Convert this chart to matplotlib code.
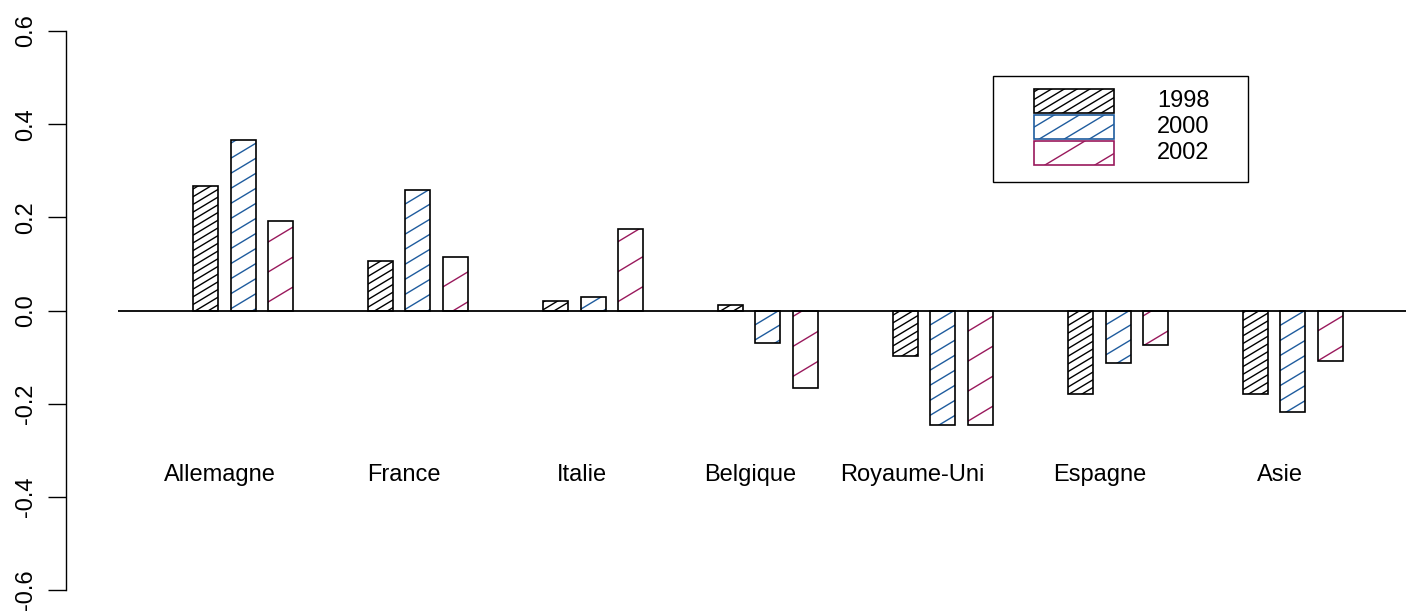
import numpy as np
import matplotlib
matplotlib.use("Agg")
import matplotlib.pyplot as plt
from matplotlib.patches import Rectangle
from matplotlib.lines import Line2D
from matplotlib.transforms import IdentityTransform

plt.rcParams['font.family'] = ['Liberation Sans', 'DejaVu Sans']

countries = ['Allemagne', 'France', 'Italie', 'Belgique', 'Royaume-Uni', 'Espagne', 'Asie']
years = ['1998', '2000', '2002']
v1998 = [0.268, 0.107, 0.021, 0.011, -0.097, -0.180, -0.180]
v2000 = [0.365, 0.258, 0.028, -0.069, -0.245, -0.112, -0.217]
v2002 = [0.193, 0.114, 0.174, -0.167, -0.245, -0.075, -0.109]
label_x = [4.08, 11.44, 18.56, 25.28, 31.76, 39.28, 46.48]

colors = ['#000000', '#1f5c9e', '#99195c']
spacing = [6.6, 12.9, 25.7]   # hatch spacing in pixels
angle = 31                     # hatch angle, degrees

fig = plt.figure(figsize=(14.06, 6.13), dpi=100)
ax = fig.add_axes([66 / 1406, 23 / 613, 1340 / 1406, 559 / 613])
ax.set_xlim(-2.08, 51.52)
ax.set_ylim(-0.6, 0.6)


def hatch(patch, color, sp, ang, z):
    pts = patch.get_transform().transform(patch.get_path().vertices)
    x0, x1 = pts[:, 0].min(), pts[:, 0].max()
    y0, y1 = pts[:, 1].min(), pts[:, 1].max()
    s = np.tan(np.radians(ang))
    v = sp / np.cos(np.radians(ang))
    kmin = int(np.floor((y0 - s * x1) / v))
    kmax = int(np.ceil((y1 - s * x0) / v))
    for k in range(kmin, kmax + 1):
        c = k * v
        ln = Line2D([x0, x1], [c + s * x0, c + s * x1], color=color, lw=1.0,
                    transform=IdentityTransform(), zorder=z)
        ax.add_artist(ln)
        ln.set_clip_path(patch)


series = [v1998, v2000, v2002]
for i, vals in enumerate(series):
    lefts = [3 + g * 7 + i * 1.5 for g in range(len(countries))]
    bars = ax.bar(lefts, vals, width=1, align='edge', facecolor='white',
                  edgecolor='none', zorder=1)
    for b in bars:
        hatch(b, colors[i], spacing[i], angle, 1.5)
    ax.bar(lefts, vals, width=1, align='edge', fill=False,
           edgecolor='black', linewidth=1.2, zorder=2)

ax.hlines(0, 0, 51.52, color='black', lw=1.3, zorder=3)

for x, name in zip(label_x, countries):
    ax.text(x, -0.354, name, ha='center', va='center', fontsize=17)

# legend drawn by hand, R style
box = Rectangle((0.692, 0.7299), 0.190, 0.1896, transform=ax.transAxes,
                fill=False, edgecolor='black', lw=1.0, clip_on=False, zorder=4)
ax.add_patch(box)
row_bottom = [0.8533, 0.8068, 0.7603]
row_text = [0.8748, 0.8283, 0.7818]
for i in range(3):
    sw = Rectangle((0.7224, row_bottom[i]), 0.0597, 0.0429, transform=ax.transAxes,
                   facecolor='white', edgecolor='none', clip_on=False, zorder=4)
    ax.add_patch(sw)
    hatch(sw, colors[i], spacing[i], angle, 4.5)
    ax.add_patch(Rectangle((0.7224, row_bottom[i]), 0.0597, 0.0429,
                           transform=ax.transAxes, fill=False,
                           edgecolor=colors[i], lw=1.2, clip_on=False, zorder=5))
    ax.text(0.8142, row_text[i], years[i], transform=ax.transAxes,
            ha='left', va='center', fontsize=17)

for side in ['top', 'right', 'bottom']:
    ax.spines[side].set_visible(False)
ax.spines['left'].set_bounds(-0.6, 0.6)
ax.spines['left'].set_linewidth(1.0)
ax.set_xticks([])
ax.set_yticks([-0.6, -0.4, -0.2, 0.0, 0.2, 0.4, 0.6])
ax.set_yticklabels(['-0.6', '-0.4', '-0.2', '0.0', '0.2', '0.4', '0.6'],
                   rotation=90, va='center', fontsize=17)
ax.tick_params(axis='y', length=13, width=1.0, pad=8)

fig.savefig('out.png', dpi=100)
